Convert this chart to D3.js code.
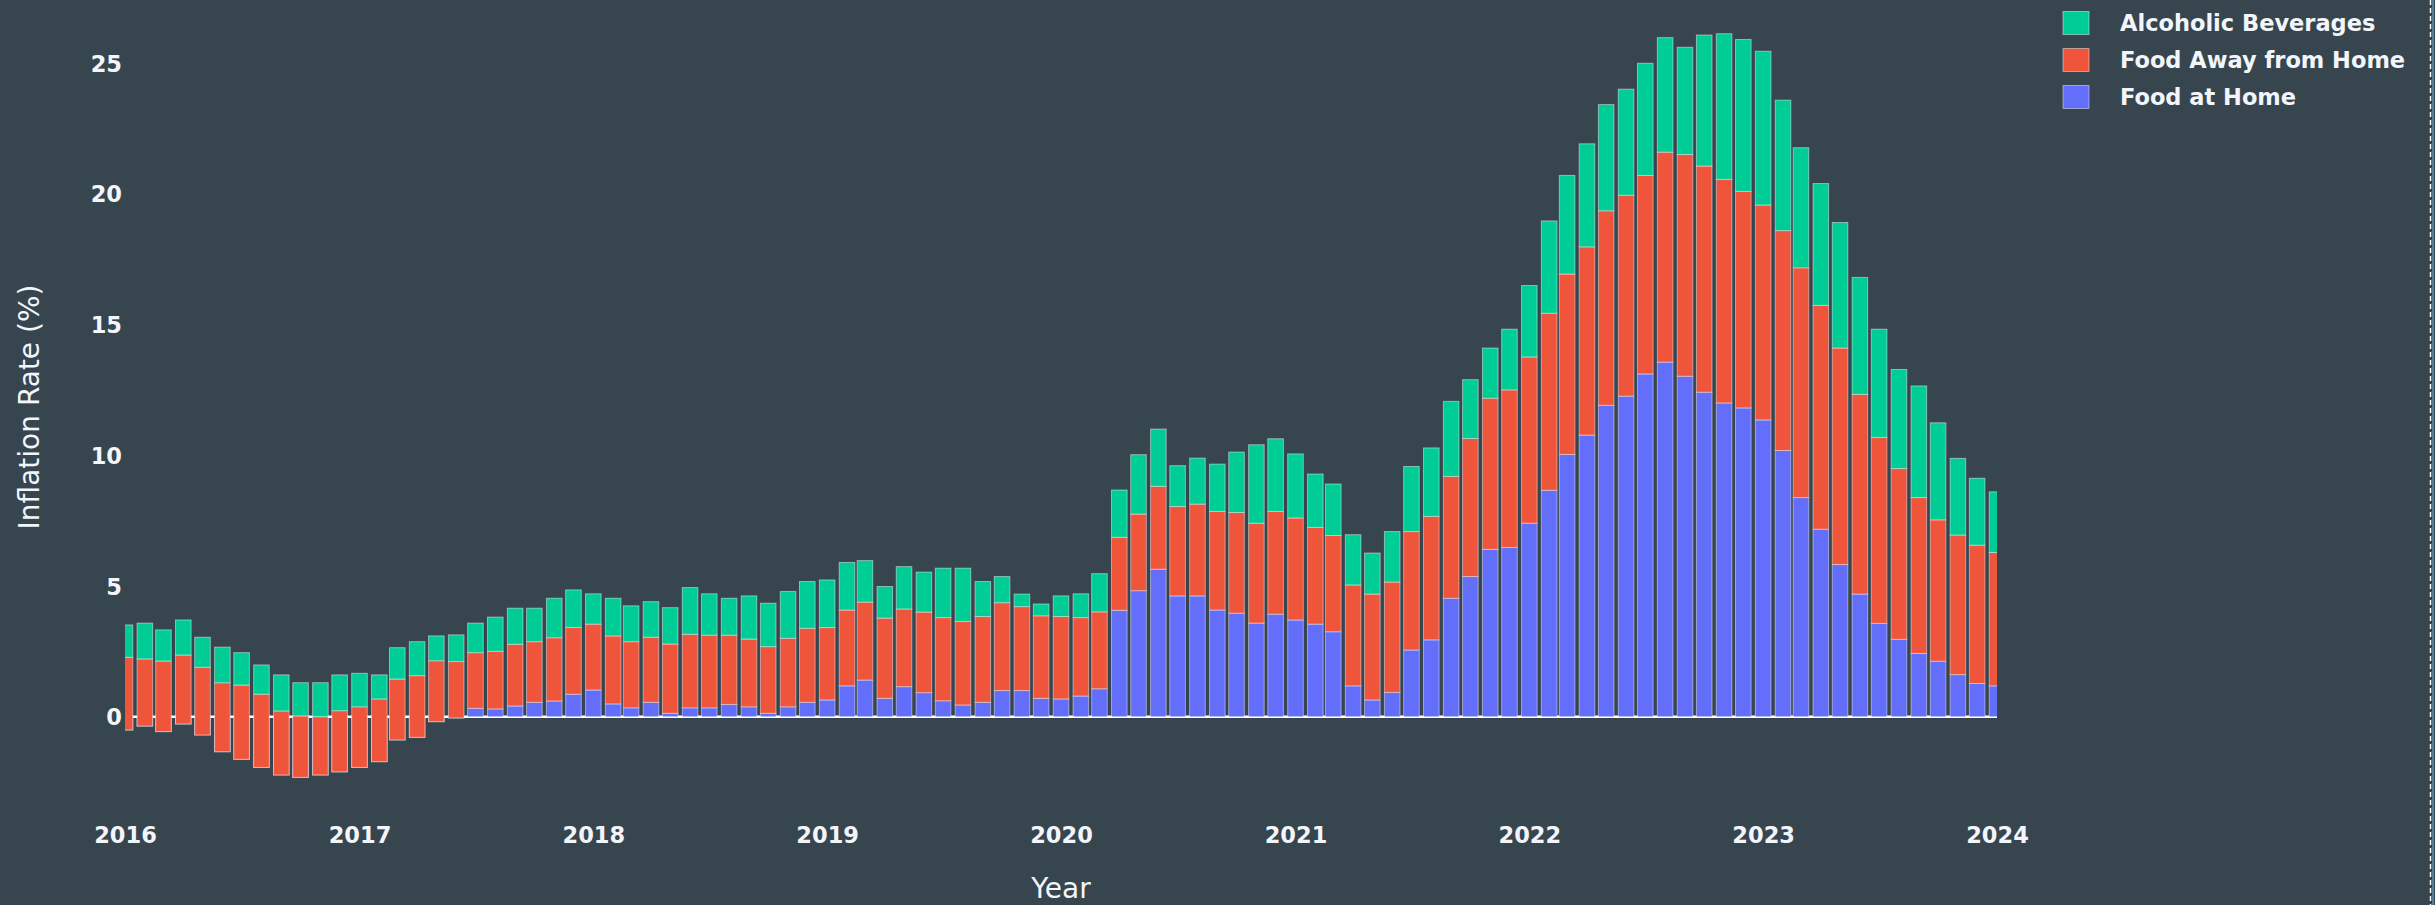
<!DOCTYPE html>
<html>
<head>
<meta charset="utf-8">
<script src="https://cdn.jsdelivr.net/npm/d3@7"></script>
<style>
  html, body { margin: 0; padding: 0; background: #37454f; }
  svg { display: block; }
  text { font-family: "DejaVu Sans", Verdana, sans-serif; fill: #f2f5fa; }
</style>
</head>
<body>
<svg id="chart" width="2435" height="905"></svg>
<script>
// ---- Data (monthly, Jan 2016 .. Jan 2024) ----
const startMonth = "2016-01";
const monthCount = 97;

const foodAtHome = [
  -0.51,-0.36,-0.57,-0.28,-0.70,-1.34,-1.63,-1.94,-2.23,-2.32,-2.23,-2.11,
  -1.94,-1.72,-0.89,-0.79,-0.19,-0.05,0.32,0.30,0.41,0.55,0.60,0.86,
  1.02,0.49,0.34,0.55,0.13,0.34,0.34,0.47,0.38,0.13,0.38,0.55,
  0.64,1.18,1.40,0.70,1.15,0.92,0.61,0.45,0.55,1.00,1.00,0.70,
  0.68,0.79,1.07,4.07,4.82,5.64,4.62,4.62,4.08,3.96,3.58,3.92,
  3.70,3.54,3.25,1.18,0.64,0.93,2.55,2.94,4.53,5.36,6.40,6.47,
  7.40,8.66,10.03,10.77,11.91,12.26,13.11,13.56,13.02,12.41,12.00,11.81,
  11.35,10.18,8.38,7.17,5.82,4.69,3.57,2.96,2.42,2.12,1.61,1.27,
  1.18
];
const foodAwayFromHome = [
  2.78,2.57,2.70,2.64,2.59,2.64,2.84,2.80,2.45,2.35,2.23,2.34,
  2.32,2.40,2.33,2.36,2.33,2.16,2.13,2.20,2.36,2.32,2.42,2.55,
  2.52,2.60,2.53,2.49,2.65,2.81,2.78,2.65,2.59,2.55,2.62,2.83,
  2.77,2.90,2.98,3.07,2.97,3.08,3.18,3.19,3.28,3.36,3.21,3.16,
  3.15,3.00,2.94,2.79,2.93,3.17,3.42,3.51,3.77,3.85,3.82,3.93,
  3.90,3.70,3.68,3.86,4.05,4.22,4.53,4.72,4.66,5.28,5.78,6.03,
  6.36,6.77,6.90,7.20,7.44,7.68,7.59,8.03,8.48,8.65,8.55,8.28,
  8.22,8.41,8.79,8.56,8.28,7.64,7.11,6.53,5.96,5.41,5.34,5.29,
  5.10
];
const alcoholicBeverages = [
  1.24,1.37,1.19,1.34,1.15,1.36,1.24,1.12,1.38,1.27,1.30,1.37,
  1.28,0.92,1.20,1.30,0.95,1.02,1.13,1.31,1.38,1.28,1.51,1.44,
  1.16,1.44,1.37,1.36,1.39,1.79,1.58,1.41,1.65,1.66,1.79,1.79,
  1.82,1.82,1.59,1.21,1.62,1.53,1.89,2.04,1.34,1.00,0.48,0.45,
  0.79,0.91,1.46,1.81,2.27,2.19,1.56,1.76,1.81,2.31,3.00,2.78,
  2.45,2.04,1.97,1.92,1.57,1.93,2.49,2.62,2.87,2.25,1.92,2.32,
  2.73,3.53,3.77,3.94,4.06,4.06,4.29,4.38,4.10,5.01,5.57,5.81,
  5.88,4.99,4.59,4.66,4.80,4.47,4.14,3.79,4.27,3.71,2.93,2.56,
  2.32
];

const seriesNames = ["Food at Home", "Food Away from Home", "Alcoholic Beverages"];
const seriesColors = ["#636efa", "#ef553b", "#00cc96"];
const yTickValues = [0, 5, 10, 15, 20, 25];
const xTickYears = [2016, 2017, 2018, 2019, 2020, 2021, 2022, 2023, 2024];
const xAxisTitle = "Year";
const yAxisTitle = "Inflation Rate (%)";

// ---- Build ----
const parseMonth = d3.timeParse("%Y-%m");
const first = parseMonth(startMonth);
const dates = d3.range(monthCount).map(i => d3.timeMonth.offset(first, i));
const seriesValues = [foodAtHome, foodAwayFromHome, alcoholicBeverages];

const svg = d3.select("#chart");
const W = 2435, H = 905;
svg.append("rect").attr("width", W).attr("height", H).attr("fill", "#37454f");

const plot = { left: 125, right: 1997, top: 0, bottom: 812 };

const x = d3.scaleTime()
  .domain([new Date(2016, 0, 1), new Date(2024, 0, 1)])
  .range([plot.left, plot.right]);
const y = d3.scaleLinear()
  .domain([0, 25])
  .range([716.7, 63]);

svg.append("defs").append("clipPath").attr("id", "plotclip")
  .append("rect")
  .attr("x", plot.left).attr("y", plot.top)
  .attr("width", plot.right - plot.left).attr("height", plot.bottom - plot.top);

// zero line (beneath bars)
svg.append("line")
  .attr("x1", plot.left).attr("x2", plot.right)
  .attr("y1", y(0)).attr("y2", y(0))
  .attr("stroke", "#ffffff").attr("stroke-width", 2.5);

const monthPx = (x(new Date(2024, 0, 1)) - x(new Date(2016, 0, 1))) / 96;
const barW = monthPx * 0.8;

// stacking ("stack" mode: cumulative sums)
const rows = dates.map((d, i) => {
  let base = 0;
  return seriesValues.map(vals => {
    const seg = { date: d, y0: base, y1: base + vals[i] };
    base += vals[i];
    return seg;
  });
});

const barsG = svg.append("g").attr("clip-path", "url(#plotclip)");
seriesValues.forEach((vals, s) => {
  barsG.append("g")
    .selectAll("rect")
    .data(rows.map(r => r[s]))
    .join("rect")
    .attr("x", d => x(d.date) - barW / 2)
    .attr("width", barW)
    .attr("y", d => Math.min(y(d.y0), y(d.y1)))
    .attr("height", d => Math.abs(y(d.y1) - y(d.y0)))
    .attr("fill", seriesColors[s])
    .attr("stroke", "rgba(255,255,255,0.45)")
    .attr("stroke-width", 1);
});

// Y axis tick labels
const yAxis = d3.axisLeft(y).tickValues(yTickValues).tickSize(0).tickPadding(0).tickFormat(d3.format("d"));
const yg = svg.append("g").attr("transform", `translate(${plot.left - 3},0)`).call(yAxis);
yg.select(".domain").remove();
yg.selectAll("text")
  .attr("font-size", "22.5px")
  .attr("font-weight", "bold")
  .attr("font-family", "DejaVu Sans, Verdana, sans-serif")
  .attr("fill", "#f2f5fa")
  .attr("dy", "0.36em");

// X axis tick labels
const xAxis = d3.axisBottom(x)
  .tickValues(xTickYears.map(yr => new Date(yr, 0, 1)))
  .tickSize(0).tickPadding(0).tickFormat(d3.timeFormat("%Y"));
const xg = svg.append("g").attr("transform", `translate(0,${plot.bottom})`).call(xAxis);
xg.select(".domain").remove();
xg.selectAll("text")
  .attr("font-size", "22.5px")
  .attr("font-weight", "bold")
  .attr("font-family", "DejaVu Sans, Verdana, sans-serif")
  .attr("fill", "#f2f5fa")
  .attr("y", 31)
  .attr("dy", 0);

// Axis titles
svg.append("text")
  .attr("x", (plot.left + plot.right) / 2).attr("y", 898)
  .attr("text-anchor", "middle")
  .attr("font-size", "28px")
  .text(xAxisTitle);

svg.append("text")
  .attr("transform", "translate(29,407) rotate(-90)")
  .attr("text-anchor", "middle")
  .attr("dy", "0.35em")
  .attr("font-size", "28px")
  .text(yAxisTitle);

// Legend (reversed order, like plotly stacked bars)
const legendItems = seriesNames.map((n, i) => ({ name: n, color: seriesColors[i] })).reverse();
const lg = svg.append("g").attr("transform", "translate(2063,0)");
legendItems.forEach((it, i) => {
  const cy = 23 + i * 37;
  lg.append("rect")
    .attr("x", 0).attr("y", cy - 11.5)
    .attr("width", 26).attr("height", 23)
    .attr("fill", it.color)
    .attr("stroke", "rgba(255,255,255,0.45)")
    .attr("stroke-width", 1);
  lg.append("text")
    .attr("x", 57).attr("y", cy)
    .attr("dy", "0.36em")
    .attr("font-size", "22.5px")
    .attr("font-weight", "bold")
    .text(it.name);
});

// right-edge dashed border
svg.append("line")
  .attr("x1", 2430.5).attr("x2", 2430.5).attr("y1", 0).attr("y2", H)
  .attr("stroke", "#ffffff").attr("stroke-width", 1.5)
  .attr("stroke-dasharray", "5,3");
svg.append("line")
  .attr("x1", 2433).attr("x2", 2433).attr("y1", 0).attr("y2", H)
  .attr("stroke", "#4f7f90").attr("stroke-width", 2);
</script>
</body>
</html>
